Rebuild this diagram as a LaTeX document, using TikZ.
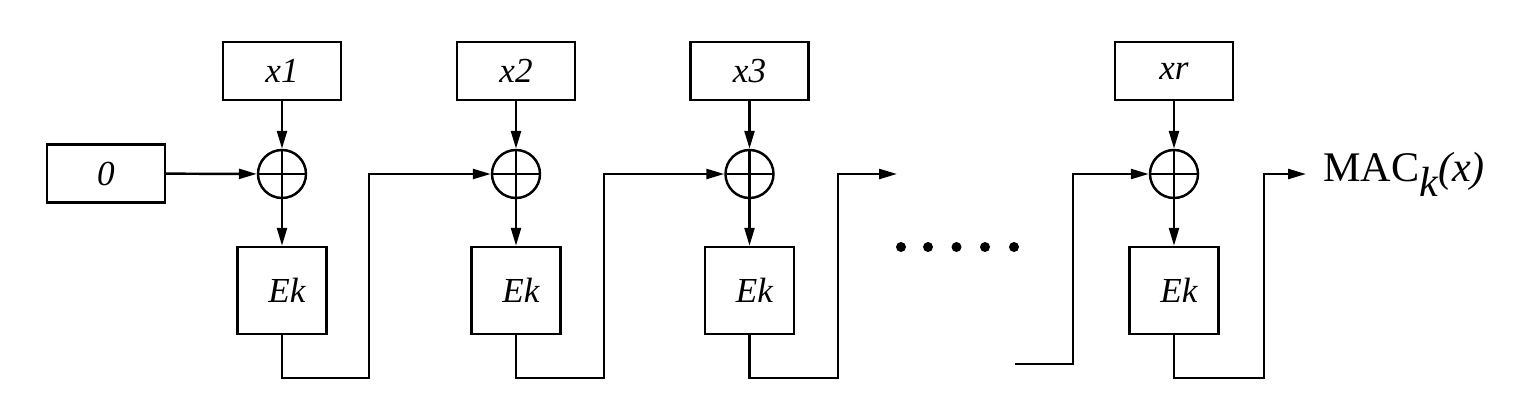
\documentclass[tikz,border=0pt]{standalone}
\usepackage{fontspec}
\setmainfont{Liberation Serif}
\usepackage{tikz}
\usetikzlibrary{arrows.meta, positioning}

\tikzset{
  blk/.style={draw, line width=1.4pt, inner sep=0pt, font=\fontsize{20}{24}\selectfont\itshape},
  inbox/.style={blk, minimum width=2.36cm, minimum height=1.16cm},
  encbox/.style={blk, minimum width=1.78cm, minimum height=1.74cm},
  xorop/.style={draw, circle, line width=1.4pt, minimum size=0.96cm, inner sep=0pt,
    path picture={\draw[line width=1.4pt] (path picture bounding box.north) -- (path picture bounding box.south)
      (path picture bounding box.west) -- (path picture bounding box.east);}},
  flow/.style={line width=1.4pt, -{Triangle[length=0.36cm, width=0.2cm]}},
  wire/.style={line width=1.4pt}
}

\begin{document}
\begin{tikzpicture}
    \useasboundingbox (0,0) rectangle (30.28,8.04);
    % initial value
    \node[inbox] (zero) at (2.12,4.57) {0};
    % the blocks
    \foreach \col/\x/\lab in {1/5.64/x1, 2/10.32/x2, 3/14.99/x3, r/23.48/xr}{
      \node[inbox] (in\col) at (\x,6.62) {\lab};
      \node[xorop] (xor\col) at (\x,4.56) {};
      \node[encbox] (ek\col) at (\x,2.23) {\hspace{0.2cm}Ek};
      \draw[flow] (in\col) -- (xor\col);
      \draw[flow] (xor\col) -- (ek\col);
    }
    \draw[flow] (zero) -- (xor1);
    % chaining
    \coordinate (low1) at (7.38,0.48);
    \coordinate (low2) at (12.08,0.48);
    \coordinate (low3) at (16.76,0.48);
    \coordinate (lowr) at (25.28,0.48);
    \coordinate (open3) at (17.94,4.56);
    \coordinate (inr) at (20.3,0.76);
    \coordinate (riser) at (21.46,0.76);
    \coordinate (macin) at (26.12,4.56);
    \draw[flow] (ek1.south) |- (low1) |- (xor2.west);
    \draw[flow] (ek2.south) |- (low2) |- (xor3.west);
    \draw[flow] (ek3.south) |- (low3) |- (open3);
    \draw[flow] (inr) -- (riser) |- (xorr.west);
    \draw[flow] (ekr.south) |- (lowr) |- (macin);
    \node[right=0.22cm of macin, font=\fontsize{24}{28}\selectfont] (mac)
      {MAC\raisebox{-0.35em}{\itshape k}\textit{(x)}};
    % dots
    \foreach \d in {18.02,18.56,19.13,19.7,20.28}{
      \fill (\d,3.1) circle (0.1cm);
    }
\end{tikzpicture}
\end{document}
